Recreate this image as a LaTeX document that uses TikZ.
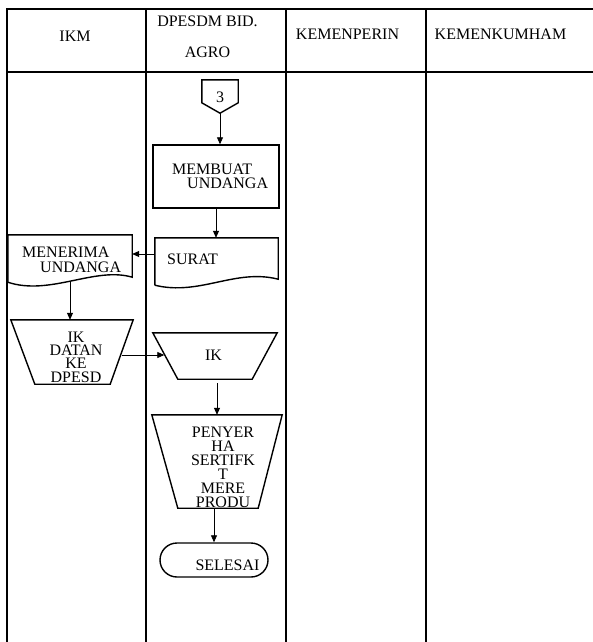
\documentclass[tikz,border=0pt]{standalone}
\usepackage{fontspec}
\setmainfont{Liberation Serif}
\usetikzlibrary{arrows.meta,calc}
\begin{document}
\begin{tikzpicture}[x=1pt,y=-1pt,
  font=\fontsize{16}{14}\selectfont,
  tbl/.style={line width=1.5pt},
  shp/.style={draw, line width=1.4pt},
  arr/.style={line width=0.8pt, -{Triangle[length=7pt,width=6pt]}},
  txt/.style={inner sep=0pt, align=center},
  box/.style={rectangle, inner sep=0pt}
]
\useasboundingbox (0,0) rectangle (593,642);
\fill[white] (0,0) rectangle (593,642);
\clip (0,0) rectangle (593,642);
% table
\draw[tbl] (7,660) -- (7,9) -- (610,9);
\draw[tbl] (7,72) -- (610,72);
\draw[tbl] (146,9) -- (146,660);
\draw[tbl] (286,9) -- (286,660);
\draw[tbl] (426,9) -- (426,660);
% header texts
\node[txt] (h-ikm) at (75,36) {IKM};
\node[txt] (h-dp1) at (207.5,21) {DPESDM BID.};
\node[txt] (h-dp2) at (207.5,52) {AGRO};
\node[txt] (h-kp) at (347.5,34) {KEMENPERIN};
\node[txt] (h-kk) at (500.5,34) {KEMENKUMHAM};
% off-page connector 3
\node[box, minimum width=36pt, minimum height=33pt] (c3) at (220,96.5) {};
\draw[shp] (c3.north west) -- (c3.north east) -- ($(c3.north east)+(0,23)$) -- (c3.south) -- ($(c3.north west)+(0,23)$) -- cycle;
\node[txt] (t3) at (220,97) {3};
% membuat undangan
\node[box, shp, minimum width=126pt, minimum height=63pt] (membuat) at (216,176.5) {};
\node[txt, align=left, anchor=north west] (t-membuat) at (172,163.4) {MEMBUAT\\\hspace*{15pt}UNDANGA};
% surat (document)
\node[box, minimum width=123pt, minimum height=47pt] (surat) at (216.5,261.5) {};
\draw[shp] (surat.south west) -- (surat.north west) -- (surat.north east) -- ($(surat.south east)+(0,-6)$)
  .. controls ($(surat.south east)+(-43,-17)$) and ($(surat.south west)+(45,11)$) .. (surat.south west);
\node[inner sep=0pt, anchor=base west] (t-surat) at (167,264) {SURAT};
% menerima undangan (document)
\node[box, minimum width=124pt, minimum height=47pt] (menerima) at (70,258.5) {};
\draw[shp] (menerima.south west) -- (menerima.north west) -- (menerima.north east) -- ($(menerima.south east)+(0,-5)$)
  .. controls ($(menerima.south east)+(-37,-16)$) and ($(menerima.south west)+(42,14)$) .. (menerima.south west);
\node[txt, align=left, anchor=north west, font=\fontsize{16}{15.4}\selectfont] (t-menerima) at (22,246.7) {MENERIMA\\\hspace*{18pt}UNDANGA};
% IK datang ke DPESDM (manual operation)
\node[box, minimum width=122pt, minimum height=64pt] (ikd) at (72,352) {};
\draw[shp] (ikd.north west) -- (ikd.north east) -- ($(ikd.south east)+(-23,0)$) -- ($(ikd.south west)+(24,0)$) -- cycle;
\node[txt, font=\fontsize{16}{13.3}\selectfont] (t-ikd) at (76,357) {IK\\DATAN\\KE\\DPESD};
% IK (manual operation)
\node[box, minimum width=124pt, minimum height=46pt] (ik) at (215,356) {};
\draw[shp] (ik.north west) -- (ik.north east) -- ($(ik.south east)+(-25,0)$) -- ($(ik.south west)+(25,0)$) -- cycle;
\node[txt] (t-ik) at (213.5,355) {IK};
% penyerahan sertifikat
\node[box, minimum width=130pt, minimum height=93pt] (penyer) at (217,461.5) {};
\draw[shp] (penyer.north west) -- (penyer.north east) -- ($(penyer.south east)+(-24,0)$) -- ($(penyer.south west)+(26,0)$) -- cycle;
\node[txt, font=\fontsize{16}{14}\selectfont] (t-penyer) at (223,467) {PENYER\\HA\\SERTIFK\\T\\MERE\\PRODU};
% selesai
\node[draw, line width=1.4pt, rounded corners=17pt, minimum width=108pt, minimum height=34pt, inner sep=0pt] (selesai) at (214,560) {};
\node[txt] (t-selesai) at (227.5,565.5) {SELESAI};
% connectors
\draw[arr] (c3.south) -- (c3.south |- membuat.north);
\draw[arr] (membuat.south) -- (membuat.south |- surat.north);
\draw[arr] ([yshift=7.5pt]surat.west) -- ([yshift=7.5pt]surat.west -| menerima.east);
\draw[arr] (menerima.south) -- (menerima.south |- ikd.north);
\draw[arr] ($(ikd.east)+(-11.5,3)$) -- ($(ikd.east -| ik.west)+(11.5,3)$);
\draw[arr] ($(ik.south)+(2,4)$) -- ($(ik.south |- penyer.north)+(2,0)$);
\draw[arr] (selesai.north |- penyer.south) -- (selesai.north);
\end{tikzpicture}
\end{document}
